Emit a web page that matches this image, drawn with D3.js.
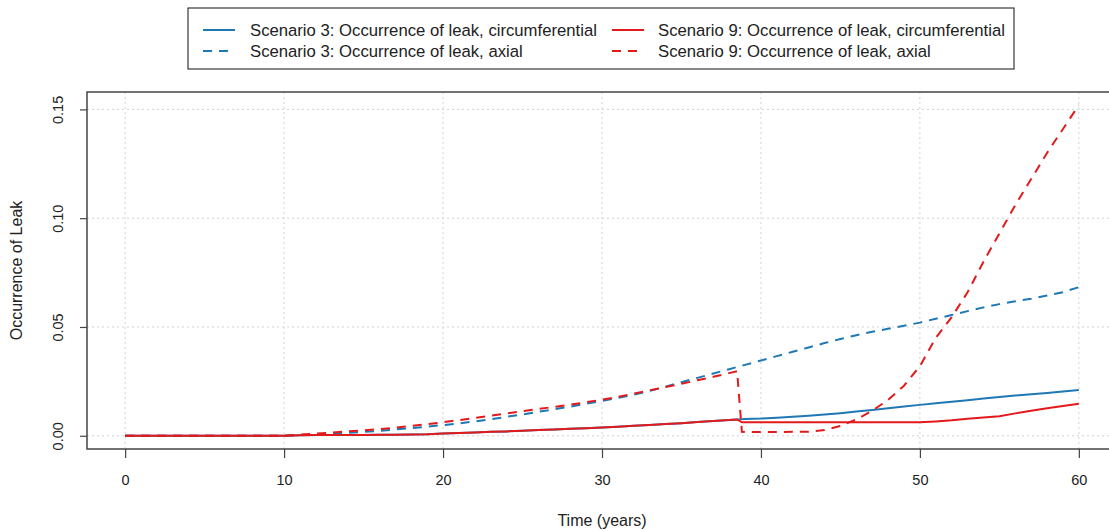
<!DOCTYPE html>
<html>
<head>
<meta charset="utf-8">
<script src="https://cdn.jsdelivr.net/npm/d3@7"></script>
<style>
  body { margin: 0; background: #fff; }
  svg text { font-family: "Liberation Sans", Arial, sans-serif; fill: #222; }
</style>
</head>
<body>
<div id="chart"></div>
<script>
// time points (years); extra points around the drop near year 38.5
const years = [0,1,2,3,4,5,6,7,8,9,10,11,12,13,14,15,16,17,18,19,20,
  21,22,23,24,25,26,27,28,29,30,31,32,33,34,35,36,37,38,38.5,38.8,
  39,40,41,42,43,44,45,46,47,48,49,50,51,52,53,54,55,56,57,58,59,60];

const s3Circ = [0,0,0,0,0,0,0,0,0,0,0,
  0.0002,0.0003,0.0003,0.0004,0.0004,0.0005,0.0005,0.0006,0.0007,0.0011,
  0.0013,0.0015,0.0018,0.002,0.0023,0.0026,0.0029,0.0032,0.0035,0.0038,
  0.0042,0.0046,0.005,0.0054,0.0058,0.0063,0.0068,0.0072,0.0075,0.0076,
  0.0077,0.0079,0.0083,0.0087,0.0092,0.0098,0.0104,0.0111,0.0118,0.0126,0.0134,0.0142,
  0.0149,0.0156,0.0163,0.0171,0.0178,0.0185,0.0191,0.0197,0.0203,0.0210];

const s3Axial = [0,0,0,0,0,0,0,0,0,0,0,
  0.0003,0.0006,0.001,0.0014,0.0018,0.0023,0.0029,0.0035,0.0042,0.0049,
  0.0057,0.0066,0.0076,0.0087,0.0098,0.011,0.0122,0.0134,0.0147,0.016,
  0.0174,0.0189,0.0206,0.0226,0.0246,0.0266,0.0286,0.0306,0.0316,0.0322,
  0.0326,0.0346,0.0366,0.0386,0.0406,0.0426,0.0445,0.0462,0.0478,0.0492,0.0506,0.052,
  0.0538,0.0555,0.0573,0.059,0.0605,0.0618,0.063,0.0645,0.066,0.0683];

const s9Circ = [0,0,0,0,0,0,0,0,0,0,0,
  0.0002,0.0003,0.0003,0.0004,0.0004,0.0005,0.0005,0.0006,0.0007,0.0011,
  0.0013,0.0015,0.0018,0.002,0.0023,0.0026,0.0029,0.0032,0.0035,0.0038,
  0.0042,0.0046,0.005,0.0054,0.0058,0.0063,0.0068,0.0072,0.0075,0.0062,
  0.0062,0.0062,0.0062,0.0062,0.0062,0.0062,0.0062,0.0062,0.0062,0.0062,0.0062,0.0062,
  0.0066,0.0071,0.0078,0.0084,0.009,0.0103,0.0115,0.0126,0.0137,0.0147];

const s9Axial = [0,0,0,0,0,0,0,0,0,0,0,
  0.0005,0.001,0.0015,0.002,0.0025,0.003,0.0037,0.0045,0.0053,0.0062,
  0.0072,0.0082,0.0092,0.0103,0.0113,0.0123,0.0133,0.0143,0.0154,0.0166,
  0.0179,0.0194,0.0209,0.0224,0.0239,0.0255,0.0271,0.0288,0.0297,0.0018,
  0.0017,0.0017,0.0017,0.0018,0.0019,0.0026,0.0045,0.0075,0.0115,0.0165,0.023,0.032,
  0.045,0.0545,0.066,0.08,0.093,0.106,0.118,0.130,0.141,0.152];

const xTicks = [0, 10, 20, 30, 40, 50, 60];
const yTicks = [0, 0.05, 0.10, 0.15];

const series = [
  { name: "Scenario 3: Occurrence of leak, circumferential", values: s3Circ, color: "#1F78B4", dash: null },
  { name: "Scenario 3: Occurrence of leak, axial", values: s3Axial, color: "#1F78B4", dash: "9,7" },
  { name: "Scenario 9: Occurrence of leak, circumferential", values: s9Circ, color: "#E31A1C", dash: null },
  { name: "Scenario 9: Occurrence of leak, axial", values: s9Axial, color: "#E31A1C", dash: "9,7" }
];

const width = 1109, height = 531;
const plot = { left: 87, right: 1117, top: 92, bottom: 449 };

const svg = d3.select("#chart").append("svg")
  .attr("width", width)
  .attr("height", height);

const x = d3.scaleLinear().domain([-2.4, 62.4]).range([plot.left, plot.right]);
const y = d3.scaleLinear().domain([-0.00608, 0.158]).range([plot.bottom, plot.top]);

// grid
svg.append("g").selectAll("line").data(xTicks).enter().append("line")
  .attr("x1", d => x(d)).attr("x2", d => x(d))
  .attr("y1", plot.top).attr("y2", plot.bottom)
  .attr("stroke", "#d3d3d3").attr("stroke-dasharray", "2,3");
svg.append("g").selectAll("line").data(yTicks).enter().append("line")
  .attr("x1", plot.left).attr("x2", plot.right)
  .attr("y1", d => y(d)).attr("y2", d => y(d))
  .attr("stroke", "#d3d3d3").attr("stroke-dasharray", "2,3");

// lines
svg.append("clipPath").attr("id", "plot-clip").append("rect")
  .attr("x", plot.left).attr("y", plot.top)
  .attr("width", plot.right - plot.left).attr("height", plot.bottom - plot.top);

const line = d3.line().x((d, i) => x(years[i])).y(d => y(d));

svg.append("g").attr("clip-path", "url(#plot-clip)")
  .selectAll("path").data(series).enter().append("path")
  .attr("d", d => line(d.values))
  .attr("fill", "none")
  .attr("stroke", d => d.color)
  .attr("stroke-width", 2)
  .attr("stroke-dasharray", d => d.dash);

// box
svg.append("rect")
  .attr("x", plot.left).attr("y", plot.top)
  .attr("width", plot.right - plot.left).attr("height", plot.bottom - plot.top)
  .attr("fill", "none").attr("stroke", "#444").attr("stroke-width", 1.5);

// x axis
const xAxis = svg.append("g")
  .attr("transform", `translate(0,${plot.bottom})`)
  .call(d3.axisBottom(x).tickValues(xTicks).tickSize(9).tickPadding(17).tickFormat(d3.format("d")));
xAxis.select(".domain").remove();
xAxis.selectAll(".tick line").attr("stroke", "#444").attr("stroke-width", 1.2);
xAxis.selectAll(".tick text").style("font-size", "14.5px").attr("fill", "#222");

// y axis
const yAxis = svg.append("g")
  .attr("transform", `translate(${plot.left},0)`)
  .call(d3.axisLeft(y).tickValues(yTicks).tickSize(7).tickFormat(d3.format(".2f")));
yAxis.select(".domain").remove();
yAxis.selectAll(".tick line").attr("stroke", "#444").attr("stroke-width", 1.2);
yAxis.selectAll(".tick text")
  .attr("x", null).attr("dy", null)
  .attr("text-anchor", "middle")
  .attr("transform", `translate(${63 - plot.left},0) rotate(-90)`)
  .style("font-size", "14.5px").attr("fill", "#222");

// axis titles
svg.append("text")
  .attr("x", (plot.left + plot.right) / 2).attr("y", 526)
  .attr("text-anchor", "middle")
  .style("font-size", "16px")
  .text("Time (years)");

svg.append("text")
  .attr("transform", `translate(22,${(plot.top + plot.bottom) / 2}) rotate(-90)`)
  .attr("text-anchor", "middle")
  .style("font-size", "16px")
  .text("Occurrence of Leak");

// legend
svg.append("rect")
  .attr("x", 188).attr("y", 8).attr("width", 826).attr("height", 61)
  .attr("fill", "#fff").attr("stroke", "#111").attr("stroke-width", 1);

const legendPos = [
  { lx: 203, tx: 250, ly: 30 },
  { lx: 203, tx: 250, ly: 51 },
  { lx: 612, tx: 658, ly: 30 },
  { lx: 612, tx: 658, ly: 51 }
];

const legend = svg.append("g").selectAll("g").data(series).enter().append("g");
legend.append("line")
  .attr("x1", (d, i) => legendPos[i].lx).attr("x2", (d, i) => legendPos[i].lx + 32)
  .attr("y1", (d, i) => legendPos[i].ly).attr("y2", (d, i) => legendPos[i].ly)
  .attr("stroke", d => d.color).attr("stroke-width", 2)
  .attr("stroke-dasharray", d => d.dash);
legend.append("text")
  .attr("x", (d, i) => legendPos[i].tx).attr("y", (d, i) => legendPos[i].ly)
  .attr("dy", "0.35em")
  .style("font-size", "16.7px")
  .text(d => d.name);
</script>
</body>
</html>
